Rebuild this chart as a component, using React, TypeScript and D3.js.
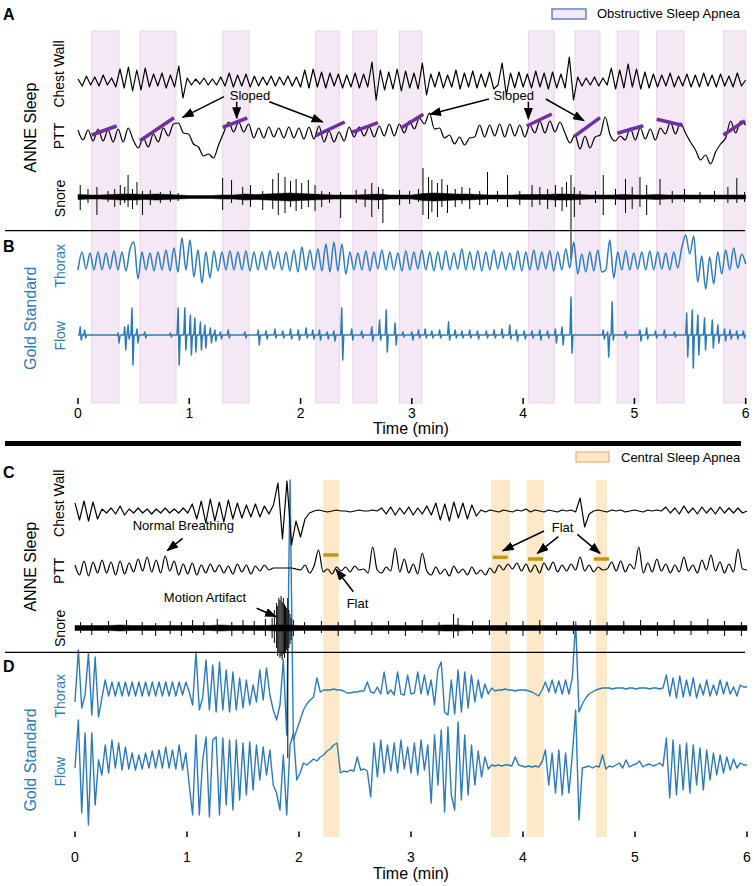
import React from "react";
import * as d3 from "d3";

const FONT = "'Liberation Sans', Arial, Helvetica, sans-serif";
const BLUE = "#2b7bbb";
const OSA_FILL = "#f5e8f5";
const OSA_EDGE = "#ebd3eb";
const CSA_FILL = "#fde9c8";
const PURPLE = "#7030a0";
const GOLD = "#c8960c";

const timeTicks = [0, 1, 2, 3, 4, 5, 6];

// apnea bands (minutes)
const osaBands = [
  [0.123, 0.368], [0.557, 0.881], [1.3, 1.537], [2.136, 2.348], [2.469, 2.684],
  [2.887, 3.089], [4.047, 4.28], [4.466, 4.69], [4.846, 5.035], [5.2, 5.446], [5.8, 6.0],
];
const csaBands = [[2.217, 2.36], [3.714, 3.884], [4.033, 4.185], [4.652, 4.75]];

// ---- Panel A/B signals (uniformly sampled over 0-6 min, units ~ px, up positive)
const chestWallA = [
  3, -4, 6, -3, 5, -4, 7, -3, 4, -5,
  13, -6, 15, -9, 12, -8, 14,
  -5, 8, -4, 9, -6, 7, -5,
  16, -16,
  4, -3, 3, -2, 4, -3, 3, -3, 5,
  -4, 9, -5, 7, -4, 8, -5, 6,
  -4, 5, -3, 6, -4, 5, -3, 6, -4, 5,
  -5, 12, -6, 13, -5, 10, -6, 9, -4, 8,
  -6, 7, -5, 9, -6, 8, -5,
  20, -18,
  12, -8, 10, -7, 13, -9, 11, -6, 9, -7,
  19, -13,
  8, -5, 10, -6, 7, -5, 12, -7, 9, -5, 11, -6, 8, -5, 10, -7, -3,
  19, -13,
  9, -6, 10, -5, 8, -6, 11, -5, 9, -7, 10, -6, 8, -6,
  25, -18,
  5, -4, 4, -3, 5, -4, 4, -3,
  14, -7, 12, -6, 18, -5, 13, -7, 10, -6,
  8, -5, 7, -4, 9, -5, 6, -4, 8, -5, 7, -5, 9, -4, 7, -5, 8, -4, 6, -5, 9, -4, 2,
];

const pttA = [
  0, -10, 0, -11, 1, -11, 0, -12, 1, -12, 2, -10, -18, -8, -17, -4, -12, 2, -6, 6,
  7, -3, -4, -14, -17, -26, -24, -28, -15, -3, 8, -2, 8, -2, 6, -8, 2, -8, 3, -7,
  2, -8, 3, -8, 2, -9, 3, -9, 4, -12, -1, -12, -2, -11, 3, -7, 3, -6, 3, -7,
  4, -6, 6, -6, 6, -3, 9, 1, 12, 6, 17, 1, 2, -8, -5, -14, -7, -15, -8, -7,
  5, -7, 5, -6, 6, -7, 6, -6, 5, -7, 5, -3, 9, -3, 9, -2, 8, -3, -13, -5,
  -19, -6, -18, -7, -5, 13, -5, -11, -6, -10, 2, -10, 2, -9, 1, -10, 2, -4, 8, -4,
  7, -3, -12, -20, -30, -25, -34, -22, -14, -8, 9, -3, 9, 5,
];

const snoreAEnv = [
  2.5, 2, 2, 2.5, 3, 3, 2.5, 3, 2.5, 2, 1.5, 1.5, 1.5, 2, 2, 3, 2.5, 3, 3.5, 4, 3.5,
  3, 2.5, 2, 2, 2, 2.5, 3, 2, 2, 2, 3.5, 4, 3.5, 3, 3, 2.5, 2, 2, 2, 2.5,
  2.5, 2.5, 3, 3, 2.5, 2, 2, 2, 2.5, 2, 2, 2.5, 2, 2, 2, 2, 2, 2, 2, 2,
];
const snoreASpikes = [
  [0.02, 12, 13], [0.09, 8, 6], [0.17, 10, 18], [0.27, 6, 5], [0.33, 8, 10], [0.38, 12, 8],
  [0.42, 10, 6], [0.45, 22, 10], [0.49, 8, 12], [0.53, 15, 8], [0.58, 6, 18], [0.65, 7, 8],
  [0.74, 5, 6], [0.83, 6, 5], [0.9, 4, 4], [1.3, 19, 13], [1.38, 17, 6], [1.48, 10, 8],
  [1.55, 12, 10], [1.66, 6, 13], [1.75, 18, 12], [1.8, 24, 18], [1.86, 20, 16], [1.91, 16, 10],
  [1.96, 18, 14], [2.01, 14, 12], [2.07, 17, 10], [2.13, 12, 14], [2.19, 6, 10], [2.26, 5, 6],
  [2.36, 5, 21], [2.5, 7, 6], [2.58, 8, 10], [2.64, 14, 20], [2.7, 10, 12], [2.74, 8, 26],
  [2.89, 7, 8], [2.98, 6, 7], [3.06, 8, 5], [3.1, 29, 18], [3.15, 20, 22], [3.18, 17, 15],
  [3.23, 14, 20], [3.27, 18, 10], [3.32, 12, 16], [3.39, 8, 10], [3.45, 10, 7], [3.52, 9, 12],
  [3.61, 6, 8], [3.68, 25, 8], [3.77, 6, 5], [3.86, 22, 10], [3.97, 6, 8], [4.08, 12, 10],
  [4.15, 10, 8], [4.22, 8, 12], [4.29, 12, 10], [4.35, 10, 14], [4.39, 15, 10], [4.43, 22, 62],
  [4.46, 10, 20], [4.51, 6, 8], [4.65, 6, 6], [4.72, 22, 18], [4.83, 8, 8], [4.92, 18, 16],
  [4.98, 10, 12], [5.05, 20, 10], [5.11, 12, 18], [5.23, 18, 8], [5.34, 6, 6], [5.45, 8, 5],
  [5.59, 5, 6], [5.72, 6, 5], [5.84, 10, 6], [5.92, 19, 6], [5.99, 5, 5],
];

const thoraxA = [
  -8, 10, -7, 9, -8, 10, -8, 9, -7, 11, -8, 10, -9,
  13, 20, -17,
  10, -8, 9, -9, 10, -8, 12, -9, 14,
  -10, 24, -8, 22, -15, 12, -21, 10, -16,
  11, -9, 10, -8, 11, -8, 10, -8, 11, -9, 10, -8, 10, -8, 11, -7, 10, -8, 10, -9, 12,
  -10, 15, -8,
  12, -8, 13, -9, 18, -10,
  20, -9, 18, -12,
  10, -8, 9, -8, 11, -9, 10, -7, 12, -8, 10, -8, 9, -9, 11, -8, 10, -7, 12, -8,
  10, -9, 10, -8, 11, -8, 9, -7, 13, -8, 10, -8, 11, -9, 10, -8, 12, -7, 10, -8,
  9, -8, 11, -9, 10, -8, 12, -8, 10, -7, 11, -9, 10, -8, 13,
  -6, 20, -12,
  8, -10, 10, -9, 12, -10,
  -8, 22, -16,
  10, -8, 11, -8, 9, -7, 10, -8, 11, -8, 10, -7, 9, -8, 10, -6,
  14, 27, 8, 26, -20, 6, -27, 5, -22,
  10, -12, 12, -8, 14, -6, 8, -2,
];

const flowAEvents = [
  [0.02, 8, 5], [0.06, 5, 3], [0.36, 2, 8], [0.42, 8, 15], [0.45, 10, 4], [0.485, 27, 30],
  [0.53, 6, 8], [0.6, 3, 3], [0.83, 2, 2], [0.9, 27, 30], [0.96, 27, 15], [1.01, 20, 20],
  [1.05, 17, 17], [1.1, 13, 15], [1.14, 10, 13], [1.19, 7, 8], [1.23, 5, 6], [1.28, 3, 4],
  [1.35, 5, 3], [1.5, 3, 3], [1.62, 5, 10], [1.69, 4, 4], [1.77, 6, 3], [1.84, 4, 3],
  [1.91, 6, 4], [1.98, 5, 5], [2.05, 7, 3], [2.11, 5, 4], [2.17, 5, 5], [2.24, 3, 4],
  [2.3, 4, 6], [2.37, 27, 25], [2.46, 6, 5], [2.55, 4, 3], [2.64, 8, 6], [2.71, 15, 5],
  [2.77, 25, 17], [2.85, 12, 10], [2.92, 3, 2], [3.0, 3, 5], [3.06, 5, 3], [3.12, 6, 3],
  [3.18, 4, 3], [3.25, 5, 3], [3.33, 13, 5], [3.39, 5, 3], [3.45, 4, 3], [3.52, 5, 3],
  [3.59, 4, 4], [3.67, 4, 3], [3.74, 5, 3], [3.81, 6, 3], [3.88, 10, 4], [3.94, 5, 6],
  [4.01, 4, 4], [4.08, 4, 3], [4.15, 5, 5], [4.22, 4, 3], [4.29, 6, 8], [4.35, 8, 10],
  [4.43, 38, 18], [4.72, 5, 4], [4.76, 3, 22], [4.8, 33, 5], [4.92, 4, 3], [5.05, 5, 6],
  [5.11, 7, 4], [5.19, 4, 3], [5.27, 5, 3], [5.36, 3, 2], [5.47, 22, 22], [5.52, 25, 33],
  [5.57, 20, 20], [5.63, 17, 15], [5.7, 15, 13], [5.75, 10, 8], [5.81, 6, 6], [5.86, 5, 4],
  [5.92, 4, 4], [5.98, 4, 3],
];

// sloped PTT segments [t0, v0, t1, v1]
const slopedSegments = [
  [0.123, -5, 0.347, 4], [0.557, -10.7, 0.863, 12.3], [1.3, 2.7, 1.521, 12],
  [2.136, -5.7, 2.397, 8], [2.46, -2.3, 2.696, 7.3], [2.9, 1.7, 3.103, 15.7],
  [4.032, 4, 4.257, 16], [4.457, -6.7, 4.691, 12.3], [4.846, -3.3, 5.08, 4.3],
  [5.2, 10.7, 5.43, 4.7], [5.799, -5, 5.994, 9.3],
];

// ---- Panel C/D signals
const chestWallC = [
  8, -9, 10, -10, 9, -8,
  2, -2, 3, -3, 5, -4, 2, -2, 3, -2, 2, -3, 2, -2, 3, -2, 2, -2, 3, -2,
  7, -8, 10, -12, 12, -10, 9, -11, 11, -8, 8, -7, 6, -6, 7, -6, 5,
  -3, 6,
  28, -28, 30, -34, -10, -26, -8, -2,
  0, 1, 0, -1, 0, 1, 0, 0, -1, 0, 1, 0, 0, 1, 0,
  3, -3, 4, -4, 3, -3, 4, -4, 3, -3, 5, -4,
  8, -9, 7, -10, 9, -7, 8, -8, 6, -5,
  1, -1, 1, 0, -1, 1, 0, -1, 1, 0, 2, -1, 1, 0, -1, 1, 0, -1, 1, 0, 1, -1,
  13, -16, -3,
  0, 1, 0, -1, 1, 0, 1, -1, 0, 1, 0, -1, 1, 0, 1, 0,
  4, -2, 3, -3, 5, -2, 3, -3, 4, -2, 3, -3, 4, -2, 3, -2, 3, -2, 0,
];

const pttC = [
  2, -8, 6, -9, 5, -6,
  7, -6, 5, -8, 6, -7, 4, -5,
  8, -4, 10, -5, 7, -6, 11, -4, 6,
  -8, 3, -7, 4, -8, 2, -6, 3,
  -5, 2, -6, 1, -7, 3, -5, 2, -7, 1, -4, 2, -3,
  -1, -1, -1, -1, -1,
  -2, -3, 2, -6, 1,
  17,
  -5, -2, -7, 0,
  -4, 0, -5, 1, -3, -2, -6,
  20,
  -3, -6, 0, -4,
  19,
  -5, 8, -6, 3, -7, 14, -4,
  -8, 0, -7, -2, -9, 1, -6, -2, -8, 0, -7, -3, -8, -1, -6,
  2, -3, 3, -2, 4, -4,
  3, -5, 2, -6, 4, -3, 5, -5, 2, -4, 3,
  -3,
  10,
  -4, 2, -5, 0, -3, -2,
  5, -4, 6, -5, 3, -2,
  20,
  -6, 4, -5, 8, -4, 3, -6, 2, -5, 10, -4, 2, -6, 7, -3, 12, -4, 5, -6, 3, -5, 18, -2, -3,
];

const snoreCEnv = [
  2.5, 2.5, 2.5, 2.5, 3, 2.5, 2.5, 2.5, 2.5, 2.5, 2.5, 2.5, 2.5, 3, 2.5, 2.5, 2.5, 2.5, 3, 3, 2.5,
  2.5, 2.5, 2.5, 2.5, 2.5, 2.5, 2.5, 2.5, 2.5, 2.5, 2.5, 2.5, 3, 3, 2.5, 2.5, 2.5, 2.5, 2.5, 2.5,
  2.5, 2.5, 2.5, 2.5, 2.5, 2.5, 2.5, 2.5, 2.5, 2.5, 2.5, 2.5, 2.5, 2.5, 2.5, 2.5, 2.5, 2.5, 2.5, 2.5,
];
const snoreCSpikes = [
  [0.05, 6, 5], [0.15, 5, 7], [0.3, 7, 5], [0.46, 8, 6], [0.6, 6, 7], [0.72, 5, 8],
  [0.85, 7, 6], [0.95, 6, 8], [1.05, 8, 5], [1.15, 6, 7], [1.27, 9, 6], [1.4, 6, 8],
  [1.5, 8, 6], [1.6, 7, 7], [1.7, 9, 8],
  [1.76, 10, 10], [1.78, 18, 15], [1.8, 25, 20], [1.81, 22, 28], [1.82, 30, 25], [1.83, 28, 30],
  [1.84, 32, 28], [1.85, 26, 32], [1.86, 30, 26], [1.87, 24, 30], [1.88, 22, 25], [1.89, 20, 22],
  [1.9, 30, 130], [1.91, 18, 20], [1.92, 14, 16], [1.93, 10, 12], [1.95, 8, 8],
  [2.05, 6, 6], [2.2, 7, 5], [2.35, 6, 8], [2.5, 8, 6], [2.65, 6, 7], [2.8, 7, 6],
  [2.95, 6, 8], [3.1, 8, 5], [3.25, 6, 7], [3.38, 14, 10], [3.42, 10, 8], [3.55, 7, 6],
  [3.7, 8, 7], [3.85, 6, 6], [4.0, 7, 8], [4.15, 8, 6], [4.3, 6, 7], [4.45, 7, 6],
  [4.6, 8, 6], [4.75, 6, 7], [4.9, 7, 6], [5.05, 8, 7], [5.2, 6, 8], [5.35, 8, 6],
  [5.5, 7, 7], [5.65, 9, 6], [5.8, 7, 8], [5.95, 6, 8],
];

const thoraxD = [
  -12, 40, -18, -5, 37, -25, 33, -27, -8, 10,
  -6, 8, -6, 8, -6, 8, -6, 8, -6, 8,
  -6, 8, -6, 8, -6, 8, -6, 8, -6, 8,
  -6, 8, -5, 8, -2, -15, 38, -20, -8, 30,
  -20, 25, -22, 28, -20, 20, -22, 18, -20, 12,
  -18, 10, -15, 5, -12, 20, -10, 22, -5, -20,
  -30, -15, 30, -45, 210, -50, -40, -30, -20, -14,
  -10, -7, 12, -2, 0, 0, 0, 1, 0, 0,
  -1, -3, -3, -2, -2, -1, -1, 8, -2, -3,
  3, -4, 18, -4, 0, -5, 18, -4, -5, 15,
  -4, -3, 18, -4, 15, -5, 10, -15, 20, 28,
  -22, -25, 10, -24, 20, -22, 18, -18, 15, -12,
  10, -8, 6, -4, 2, -1, 0, 0, 1, 0,
  0, -1, 0, 0, 0, -1, -2, -4, -6, 0,
  8, -2, 10, -3, 9, -4, 10, -4, 12, 68,
  -22, -14, -8, -4, -2, 0, 1, 2, 2, 2,
  1, 2, 2, 2, 1, 2, 2, 1, 2, 2,
  2, 1, 2, 2, 1, 2, 15, -6, 12, -8,
  14, -7, 10, -6, 12, -8, 6, -5, 10, -6,
  5, -5, 10, -4, 8, -4, 3, -6, 5, 3,
  3,
];

const flowD = [
  -3, 45, -48, 32, -60, 32, -40, 5, -10, 20,
  -8, 25, -3, 22, -5, 18, -4, 12, -5, 10,
  -4, 12, -3, 14, -3, 15, -3, 18, -3, 15,
  -4, 20, -5, 12, -20, -50, 30, -50, 5, 28,
  -52, 25, 28, -50, 27, -40, 25, -45, 25, -35,
  22, -30, 23, -25, 20, -15, 18, -10, 15, -20,
  -28, -45, 10, -50, 20, 32, -15, -8, 2, 0,
  3, 6, 4, 8, 10, 14, 16, 20, 22, -8,
  -6, -7, -5, -6, 8, -5, -4, -6, -32, 22,
  -12, 25, -8, 20, -6, 22, -8, 25, -4, 18,
  -8, 22, -10, 25, -5, 20, -38, 30, -20, 35,
  -47, 38, -30, -45, 43, -35, 30, -30, 20, -20,
  14, -12, 8, -4, 0, -1, 0, -1, 0, 0,
  -1, 8, 0, -1, -2, -1, -2, -1, -2, 3,
  15, -20, 12, -28, 15, -30, 12, -28, 10, 55,
  -55, -3, -2, -1, -3, -1, -2, 10, -4, -1,
  -2, 0, 2, -3, 5, -2, 0, 1, 4, -2,
  0, 1, -1, 0, 2, -1, 27, -33, 25, -30,
  20, -25, 22, -28, 20, -20, 17, -25, 15, -15,
  12, -10, 10, -8, 8, -5, 6, -3, 2, 0,
  0,
];

// flat PTT markers [t0, t1, level]
const flatSegments = [[2.217, 2.351, 12], [3.729, 3.863, 9.7], [4.045, 4.179, 8], [4.634, 4.768, 8]];

// ---------------- helpers
type Scale = d3.ScaleLinear<number, number>;
const unitY = (base: number) => d3.scaleLinear().domain([0, 1]).range([base, base - 1]);

function seriesPath(values: number[], x: Scale, base: number, curve: d3.CurveFactory = d3.curveLinear) {
  const y = unitY(base);
  const n = values.length;
  return d3.line<number>().curve(curve).x((_, i) => x((6 * i) / (n - 1))).y((d) => y(d))(values) || "";
}

function eventPath(events: number[][], x: Scale, base: number) {
  const y = unitY(base);
  const d = 0.009;
  const pts: [number, number][] = [[0, 0]];
  events.forEach(([t, up, down]) => {
    pts.push([t - d, 0], [t, up], [t + d, -down], [t + 2 * d, 0]);
  });
  pts.push([6, 0]);
  return d3.line<[number, number]>().x((p) => x(p[0])).y((p) => y(p[1]))(pts) || "";
}

function envelopePath(env: number[], x: Scale, base: number) {
  const y = unitY(base);
  const n = env.length;
  return d3.area<number>().x((_, i) => x((6 * i) / (n - 1))).y0((d) => y(-d)).y1((d) => y(d))(env) || "";
}

function spikePath(spikes: number[][], x: Scale, base: number) {
  const y = unitY(base);
  return spikes.map(([t, up, down]) => `M${x(t)},${y(up)}L${x(t)},${y(-down)}`).join("");
}

const RotLabel = ({ x, y, text, size, color = "#000" }: any) => (
  <text
    transform={`translate(${x},${y}) rotate(-90)`}
    textAnchor="middle"
    dominantBaseline="central"
    fontSize={size}
    fill={color}
    fontFamily={FONT}
  >
    {text}
  </text>
);

const Arrow = ({ x1, y1, x2, y2 }: any) => (
  <line x1={x1} y1={y1} x2={x2} y2={y2} stroke="#000" strokeWidth={1.5} markerEnd="url(#ah)" />
);

export default function App() {
  const xTop = d3.scaleLinear().domain([0, 6]).range([78, 745.7]);
  const xBot = d3.scaleLinear().domain([0, 6]).range([75, 747]);

  const pttAY = unitY(130);
  const pttCY = unitY(567);

  const topArrows = [
    [1.312, 96.7, 0.941, 117.3], [1.426, 101.7, 1.426, 118.3], [1.719, 101.7, 2.199, 122],
    [3.693, 99, 3.163, 114.3], [4.047, 101.7, 4.047, 119], [4.203, 99, 4.547, 120.7],
  ];
  const botArrows = [
    [0.962, 538.3, 0.824, 550.7], [1.622, 608.3, 1.795, 616.7], [2.485, 591.7, 2.33, 569.3],
    [4.188, 531, 3.819, 550.7], [4.315, 536.7, 4.128, 553.3], [4.485, 534.3, 4.688, 553.3],
  ];

  return (
    <svg width={754} height={886} style={{ position: "absolute", left: 0, top: 0, background: "#fff" }} fontFamily={FONT}>
      <defs>
        <marker id="ah" markerWidth={12} markerHeight={9} refX={11} refY={4.5} orient="auto" markerUnits="userSpaceOnUse">
          <path d="M0,0 L12,4.5 L0,9 z" fill="#000" />
        </marker>
      </defs>
      <rect x={0} y={0} width={754} height={886} fill="#fff" />

      {/* bands */}
      {osaBands.map(([a, b], i) => (
        <rect key={"o" + i} x={xTop(a)} y={31} width={xTop(b) - xTop(a)} height={372} fill={OSA_FILL} stroke={OSA_EDGE} strokeWidth={1} />
      ))}
      {csaBands.map(([a, b], i) => (
        <rect key={"c" + i} x={xBot(a)} y={480} width={xBot(b) - xBot(a)} height={357} fill={CSA_FILL} />
      ))}

      {/* Panel A traces */}
      <path d={seriesPath(chestWallA, xTop, 82)} fill="none" stroke="#000" strokeWidth={1.2} strokeLinejoin="round" />
      <path d={seriesPath(pttA, xTop, 130, d3.curveMonotoneX)} fill="none" stroke="#000" strokeWidth={1.2} strokeLinejoin="round" />
      <path d={envelopePath(snoreAEnv, xTop, 197)} fill="#000" stroke="#000" strokeWidth={0.5} />
      <path d={spikePath(snoreASpikes, xTop, 197)} fill="none" stroke="#000" strokeWidth={1} />
      {slopedSegments.map(([t0, v0, t1, v1], i) => (
        <line key={"s" + i} x1={xTop(t0)} y1={pttAY(v0)} x2={xTop(t1)} y2={pttAY(v1)} stroke={PURPLE} strokeWidth={3.5} />
      ))}

      {/* Panel B traces */}
      <path d={seriesPath(thoraxA, xTop, 262, d3.curveMonotoneX)} fill="none" stroke={BLUE} strokeWidth={1.5} strokeLinejoin="round" />
      <path d={eventPath(flowAEvents, xTop, 335)} fill="none" stroke={BLUE} strokeWidth={1.5} strokeLinejoin="round" />

      {/* Panel D traces (drawn before C so black stays on top) */}
      <path d={seriesPath(thoraxD, xBot, 690)} fill="none" stroke={BLUE} strokeWidth={1.4} strokeLinejoin="round" />
      <path d={seriesPath(flowD, xBot, 765)} fill="none" stroke={BLUE} strokeWidth={1.4} strokeLinejoin="round" />

      {/* Panel C traces */}
      <path d={seriesPath(chestWallC, xBot, 511)} fill="none" stroke="#000" strokeWidth={1.2} strokeLinejoin="round" />
      <path d={seriesPath(pttC, xBot, 567, d3.curveMonotoneX)} fill="none" stroke="#000" strokeWidth={1.2} strokeLinejoin="round" />
      <path d={envelopePath(snoreCEnv, xBot, 628)} fill="#000" stroke="#000" strokeWidth={0.5} />
      <path d={spikePath(snoreCSpikes, xBot, 628)} fill="none" stroke="#000" strokeWidth={1} />
      {flatSegments.map(([t0, t1, v], i) => (
        <line key={"f" + i} x1={xBot(t0)} y1={pttCY(v)} x2={xBot(t1)} y2={pttCY(v)} stroke={GOLD} strokeWidth={3.5} />
      ))}

      {/* separators */}
      <line x1={5} x2={745} y1={230.7} y2={230.7} stroke="#000" strokeWidth={1.3} />
      <line x1={5} x2={741} y1={443.5} y2={443.5} stroke="#000" strokeWidth={5} />
      <line x1={5} x2={745} y1={652.3} y2={652.3} stroke="#000" strokeWidth={1.3} />

      {/* annotations top */}
      <text x={xTop(1.546)} y={99.5} textAnchor="middle" fontSize={13}>Sloped</text>
      <text x={xTop(3.915)} y={100} textAnchor="middle" fontSize={13}>Sloped</text>
      {topArrows.map(([t1, y1, t2, y2], i) => (
        <Arrow key={"ta" + i} x1={xTop(t1)} y1={y1} x2={xTop(t2)} y2={y2} />
      ))}

      {/* annotations bottom */}
      <text x={xBot(0.967)} y={530} textAnchor="middle" fontSize={13}>Normal Breathing</text>
      <text x={xBot(1.161)} y={602} textAnchor="middle" fontSize={13}>Motion Artifact</text>
      <text x={xBot(2.522)} y={608} textAnchor="middle" fontSize={13}>Flat</text>
      <text x={xBot(4.353)} y={532} textAnchor="middle" fontSize={13}>Flat</text>
      {botArrows.map(([t1, y1, t2, y2], i) => (
        <Arrow key={"ba" + i} x1={xBot(t1)} y1={y1} x2={xBot(t2)} y2={y2} />
      ))}

      {/* axes */}
      {timeTicks.map((t) => (
        <g key={"tt" + t}>
          <line x1={xTop(t)} x2={xTop(t)} y1={398} y2={404} stroke="#000" strokeWidth={1.5} />
          <text x={xTop(t)} y={418} textAnchor="middle" fontSize={14}>{t}</text>
          <line x1={xBot(t)} x2={xBot(t)} y1={831.5} y2={837} stroke="#000" strokeWidth={1.5} />
          <text x={xBot(t)} y={862} textAnchor="middle" fontSize={14}>{t}</text>
        </g>
      ))}
      <text x={411} y={434} textAnchor="middle" fontSize={16}>Time (min)</text>
      <text x={411} y={879} textAnchor="middle" fontSize={16}>Time (min)</text>

      {/* legends */}
      <rect x={552} y={9} width={34} height={10} fill={OSA_FILL} stroke="#4a72c0" strokeWidth={1.3} />
      <text x={597} y={18} fontSize={13}>Obstructive Sleep Apnea</text>
      <rect x={576} y={452} width={33} height={10} fill={CSA_FILL} stroke="#f4b183" strokeWidth={1.3} />
      <text x={621} y={461.5} fontSize={13}>Central Sleep Apnea</text>

      {/* panel letters */}
      <text x={3} y={20} fontSize={16} fontWeight="bold">A</text>
      <text x={3} y={252} fontSize={16} fontWeight="bold">B</text>
      <text x={3} y={478} fontSize={16} fontWeight="bold">C</text>
      <text x={3} y={672} fontSize={16} fontWeight="bold">D</text>

      {/* row labels */}
      <RotLabel x={30} y={127.5} text="ANNE Sleep" size={16} />
      <RotLabel x={59} y={74} text="Chest Wall" size={14} />
      <RotLabel x={59} y={136} text="PTT" size={14} />
      <RotLabel x={60} y={198.5} text="Snore" size={14} />
      <RotLabel x={30} y={318.3} text="Gold Standard" size={16} color={BLUE} />
      <RotLabel x={60} y={265.8} text="Thorax" size={14} color={BLUE} />
      <RotLabel x={60} y={335.8} text="Flow" size={14} color={BLUE} />
      <RotLabel x={30} y={566.7} text="ANNE Sleep" size={16} />
      <RotLabel x={59} y={503.3} text="Chest Wall" size={14} />
      <RotLabel x={59} y={570.8} text="PTT" size={14} />
      <RotLabel x={60} y={628.3} text="Snore" size={14} />
      <RotLabel x={30} y={760} text="Gold Standard" size={16} color={BLUE} />
      <RotLabel x={60} y={695.8} text="Thorax" size={14} color={BLUE} />
      <RotLabel x={60} y={771.7} text="Flow" size={14} color={BLUE} />
    </svg>
  );
}
